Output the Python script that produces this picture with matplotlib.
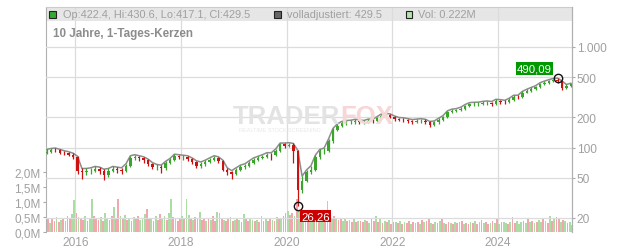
import matplotlib
matplotlib.use("Agg")
import matplotlib.pyplot as plt
from matplotlib.patches import Rectangle
import numpy as np

plt.rcParams['font.family'] = ['Liberation Sans', 'DejaVu Sans']

# ---------------- data (monthly candles, Jun 2015 .. May 2025) ----------------
start_open = 88
closes = [91, 95, 94, 89, 88, 85, 80, 59, 57, 58, 59, 61, 59, 53, 59, 61, 60, 59, 66, 79,
          80, 78, 75, 69, 64, 64, 62, 70, 75, 82, 80, 80, 77, 72, 66, 69, 72, 76, 79, 73,
          60, 57, 55, 60, 64, 66, 71, 76, 79, 81, 85, 84, 93, 108, 104, 106, 92, 38, 47, 57,
          60, 80, 92, 93, 115, 148, 165, 174, 178, 178, 183, 178, 178, 184, 182, 195, 208, 210, 203, 192,
          190, 188, 182, 180, 184, 185, 178, 168, 178, 188, 200, 225, 233, 235, 243, 260, 270, 271, 271, 276,
          280, 273, 292, 283, 282, 298, 320, 316, 352, 368, 383, 398, 428, 442, 458, 472, 455, 395, 410, 429.5]
highs = [96, 98, 99, 96, 93, 91, 88, 82, 62, 62, 63, 65, 64, 61, 62, 65, 64, 63, 69, 83,
         85, 83, 81, 77, 71, 68, 67, 73, 78, 86, 85, 84, 83, 79, 74, 72, 75, 79, 83, 81,
         75, 63, 59, 63, 67, 69, 74, 79, 82, 85, 89, 89, 97, 111, 111, 112, 110, 94, 52, 60,
         66, 84, 96, 99, 122, 155, 172, 182, 186, 187, 191, 189, 186, 192, 191, 203, 216, 219, 216, 206,
         199, 198, 194, 190, 192, 194, 191, 182, 184, 196, 208, 232, 241, 244, 252, 268, 280, 282, 283, 288,
         291, 287, 302, 300, 295, 309, 331, 332, 362, 380, 396, 412, 441, 458, 473, 486, 490.09, 460, 424, 436]
lows = [86, 89, 90, 86, 85, 82, 77, 55, 49, 54, 55, 57, 55, 48, 51, 57, 56, 55, 57, 64,
        76, 74, 71, 66, 61, 60, 56, 60, 68, 73, 77, 76, 73, 68, 63, 63, 66, 70, 74, 70,
        58, 54, 49, 53, 58, 61, 64, 69, 74, 77, 79, 76, 82, 91, 100, 101, 70, 26.26, 35, 45,
        55, 58, 77, 87, 90, 112, 145, 160, 168, 170, 172, 171, 170, 174, 175, 179, 192, 201, 196, 184,
        182, 180, 175, 172, 175, 176, 170, 160, 163, 173, 184, 197, 219, 226, 229, 238, 254, 261, 260, 263,
        268, 262, 268, 274, 271, 276, 292, 303, 310, 345, 360, 375, 390, 418, 432, 447, 440, 378, 385, 402]

volumes = [0.35, 0.42, 0.30, 0.45, 0.38, 0.50, 0.33, 0.40, 0.48, 0.36, 0.55, 0.42, 0.60, 1.07, 0.62, 0.50, 0.45, 0.40, 0.52, 0.38, 0.47, 1.10, 0.55, 0.45,
           0.40, 0.50, 0.38, 0.62, 0.45, 0.40, 0.55, 0.83, 0.48, 1.10, 0.52, 0.44, 0.58, 0.40, 0.47, 0.36, 0.50, 0.42, 0.55, 0.39, 0.46, 0.60, 0.77, 0.43,
           0.45, 0.38, 0.52, 0.41, 0.60, 0.47, 0.55, 0.40, 0.62, 1.10, 0.50, 0.44, 0.38, 0.48, 0.55, 0.42, 1.10, 0.58, 0.45, 0.39, 0.50, 0.43, 0.66, 0.40,
           0.42, 0.36, 0.48, 0.40, 0.55, 0.38, 0.68, 0.62, 0.45, 0.40, 0.37, 0.44, 0.50, 0.36, 0.41, 0.47, 0.39, 0.35, 0.60, 0.43, 0.38, 0.45, 0.40, 0.36,
           0.40, 0.35, 0.55, 0.38, 0.42, 0.36, 0.45, 0.40, 0.38, 0.50, 0.43, 0.47, 0.55, 0.62, 0.70, 0.58, 0.65, 0.52, 1.10, 0.75, 0.60, 0.55, 0.68, 0.50,
           0.62, 0.48, 0.55, 0.45, 0.60, 0.42, 0.50, 0.46, 1.05, 0.55, 0.48, 0.52, 0.44, 0.40, 0.47, 0.38, 0.42, 0.36, 0.40, 0.35, 0.45, 0.33, 0.38, 0.36,
           0.32, 0.40, 0.36, 0.30, 0.45, 0.38, 0.55, 0.34, 0.42, 0.30, 0.38, 0.33, 0.40, 0.28, 0.35, 0.32, 0.30, 0.36, 0.28, 0.34, 0.30, 0.38, 0.27, 0.32,
           0.30, 0.35, 0.28, 0.40, 0.32, 0.38, 0.45, 0.30, 0.27, 0.33, 0.29, 0.36, 0.42, 0.31, 0.28, 0.34, 0.30, 0.26, 0.35, 0.29, 0.32, 0.38, 0.28, 0.30,
           0.28, 0.33, 0.30, 0.36, 0.27, 0.32, 0.40, 0.29, 0.34, 0.28, 0.31, 0.38, 0.30, 0.45, 0.28, 0.32, 0.35, 0.30, 0.27, 0.33, 0.50, 0.30, 0.36, 0.28,
           0.32, 0.36, 0.30, 0.42, 0.33, 0.38, 0.30, 0.35, 0.40, 0.32, 0.48, 0.36, 0.30, 0.55, 0.38, 0.42, 0.50, 0.45, 0.35, 0.40, 0.38, 0.30, 0.35, 0.22]
vol_dir = ("grgrrgrgrgrrggrgrrgrggrr"
           "rgrggrrgrrgrgrgrgrrgggrr"
           "grgrrggrggrgrrgrggrgrrgr"
           "rgrgrrggrgrrgrgrgrgrrggr"
           "grgrgrrgrgrgrrgrrgrgrggr"
           "ggrgrggrgrgrgrrggrgrgrgr"
           "rgrgrrgrgrgrgrrgrgrgrrgr"
           "grgrgrrgrgrgrgrrgrgrgrgr"
           "rgrgrgrgrrgrgrgrggrgrrgg"
           "grgrgrgrggrgrgrgrrgrgrgg")

price_ticks = [20, 50, 100, 200, 500, 1000]
price_labels = ['20', '50', '100', '200', '500', '1.000']
vol_ticks = [0, 0.5, 1.0, 1.5, 2.0]
vol_labels = ['0,0M', '0,5M', '1,0M', '1,5M', '2,0M']
year_ticks = [2016, 2018, 2020, 2022, 2024]
year_labels = ['2016', '2018', '2020', '2022', '2024']

legend_ohlc = "Op:422.4, Hi:430.6, Lo:417.1, Cl:429.5"
legend_adj = "volladjustiert: 429.5"
legend_vol = "Vol: 0.222M"
title = "10 Jahre, 1-Tages-Kerzen"
hi_label = "490,09"
lo_label = "26,26"

# ---------------- derived positions ----------------
n = len(closes)
t = 2015 + (5 + np.arange(n) + 0.5) / 12.0
opens = [start_open] + closes[:-1]
nv = len(volumes)
tv = 2015 + 5 / 12.0 + (np.arange(nv) + 0.5) / 24.0

GREEN = '#3aa52a'
RED = '#cc1111'
VGREEN = '#abdca3'
VRED = '#f2a6ae'
TXT = '#a0a0a0'

W, H = 632, 253
fig = plt.figure(figsize=(W / 100, H / 100), dpi=100)
L, R, B, T = 45.5, 572, 233, 8
ax = fig.add_axes([L / W, (H - B) / H, (R - L) / W, (B - T) / H])
ax.set_xlim(2015.436, 2025.398)

# volume
vcol = [VGREEN if c == 'g' else VRED for c in vol_dir]
ax.bar(tv, volumes, width=1 / 24 * 0.8, color=vcol, linewidth=0, zorder=2)
ax.set_ylim(0, 7.5)
ax.set_yticks(vol_ticks)
ax.set_yticklabels(vol_labels)
ax.set_xticks(year_ticks)
ax.set_xticklabels(year_labels)
ax.tick_params(axis='y', colors='#aaaaaa', labelcolor=TXT, labelsize=8.5, length=2, pad=1.5, width=0.8)
ax.tick_params(axis='x', length=0, labelcolor=TXT, labelsize=8.6, pad=3)
ax.grid(axis='x', color='#dcdcdc', linewidth=0.9, zorder=0)
ax.set_axisbelow(True)
ax.spines['bottom'].set_visible(False)
ax.spines['left'].set_color('#b0b0b0')
ax.spines['right'].set_color('#b0b0b0')
ax.spines['top'].set_color('#cccccc')

# header band
ax.add_patch(Rectangle((0, 1 - 14 / 225), 1, 14 / 225, transform=ax.transAxes,
                       facecolor='#e6e6e6', edgecolor='none', zorder=0.5))

# price
ax2 = ax.twinx()
ax2.set_yscale('log')
ax2.set_ylim(14.49, 2498)
ax2.set_yticks(price_ticks)
ax2.set_yticklabels(price_labels)
ax2.yaxis.set_minor_locator(matplotlib.ticker.NullLocator())
ax2.tick_params(axis='y', colors='#aaaaaa', labelcolor=TXT, labelsize=8.6, length=2, pad=1.5, width=0.8)
ax2.grid(axis='y', color='#dcdcdc', linewidth=0.9, zorder=0)
for s in ['bottom', 'left', 'top']:
    ax2.spines[s].set_visible(False)
ax2.spines['right'].set_color('#b0b0b0')

# watermark
fig.text(340 / W, 1 - 117 / H, "TRADER", ha='right', va='center', fontsize=18.5, fontweight='bold',
         color='#e3e3e3', zorder=1)
fig.text(340 / W, 1 - 117 / H, "FOX", ha='left', va='center', fontsize=18.5, fontweight='bold',
         color='#f6d6d6', zorder=1)
fig.text(280 / W, 1 - 130.5 / H, "REALTIME STOCK SCREENING", ha='center', va='center', fontsize=4,
         color='#e8e8e8', zorder=1)

# adjusted line (grey)
ax2.plot(t, highs, color='#8c8c8c', linewidth=1.1, zorder=3)

# candles
bw = 1 / 12 * 0.55
for ti, o, h, l, c in zip(t, opens, highs, lows, closes):
    col = GREEN if c >= o else RED
    ax2.vlines(ti, l, h, color=col, linewidth=0.9, zorder=4)
    lo_b, hi_b = min(o, c), max(o, c)
    if hi_b / lo_b < 1.01:
        hi_b = lo_b * 1.01
    ax2.bar(ti, hi_b - lo_b, bottom=lo_b, width=bw, color=col, linewidth=0, zorder=5)

# extreme markers
imax = int(np.argmax(highs))
imin = int(np.argmin(lows))
ax2.plot(t[imax], highs[imax], marker='o', ms=6, mfc='none', mec='#111111', mew=1, zorder=6)
ax2.plot(t[imin], lows[imin], marker='o', ms=6, mfc='none', mec='#111111', mew=1, zorder=6)
ax2.annotate(hi_label, (t[imax], highs[imax]), xytext=(-16.6, 7.2), textcoords='offset points',
             ha='center', va='center', fontsize=8.2, color='white', zorder=7,
             bbox=dict(boxstyle='square,pad=0.12', facecolor='#009900', edgecolor='none'))
ax2.annotate(lo_label, (t[imin], lows[imin]), xytext=(12.8, -7.2), textcoords='offset points',
             ha='center', va='center', fontsize=8.2, color='white', zorder=7,
             bbox=dict(boxstyle='square,pad=0.12', facecolor='#cc0000', edgecolor='none'))

# header legend
def square(xp, fc):
    fig.add_artist(Rectangle(((xp - 3.5) / W, 1 - 18.5 / H), 7 / W, 7 / H, transform=fig.transFigure,
                             facecolor=fc, edgecolor='#222222', linewidth=0.8, zorder=8))

square(52, '#33aa33')
fig.text(63 / W, 1 - 15.2 / H, legend_ohlc, ha='left', va='center', fontsize=7.9, color=TXT)
square(277, '#666666')
fig.text(287 / W, 1 - 15.2 / H, legend_adj, ha='left', va='center', fontsize=7.9, color=TXT)
square(409, '#b5e3ad')
fig.text(418 / W, 1 - 15.2 / H, legend_vol, ha='left', va='center', fontsize=7.9, color=TXT)

fig.text(53 / W, 1 - 33.5 / H, title, ha='left', va='center', fontsize=8.4, fontweight='bold', color='#8c8c8c')

fig.savefig('out.png', dpi=100)
